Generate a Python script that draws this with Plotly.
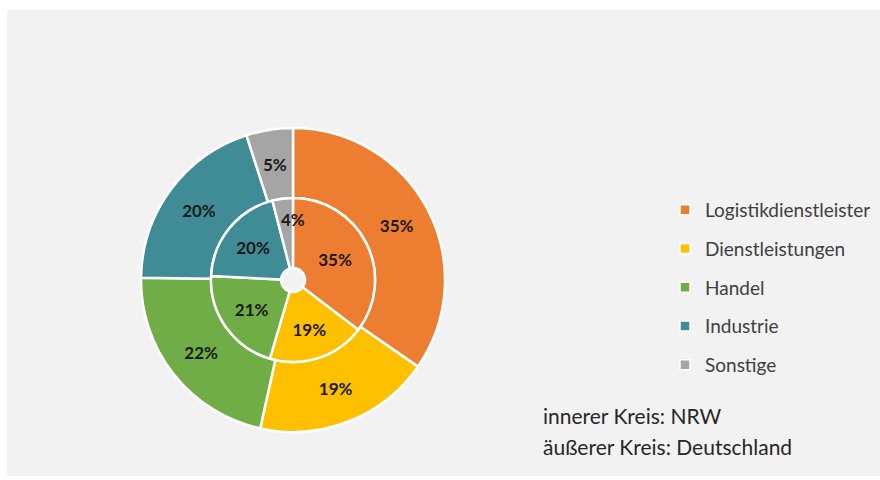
import math
import plotly.graph_objects as go

# categories and shares (%)
categories = ['Logistikdienstleister', 'Dienstleistungen', 'Handel', 'Industrie', 'Sonstige']
nrw = [35, 19, 21, 20, 4]            # inner ring
deutschland = [35, 19, 22, 20, 5]    # outer ring
colors = ['#ED7D31', '#FFC000', '#70AD47', '#3F8C96', '#A5A5A5']

W, H = 880, 480
cx, cy = 293, 280
r_out, r_in, r_hole = 152, 82, 12
SMALL = 10   # slices below this get their label as an annotation (plotly would shrink it)

label_font = dict(family='Lato', size=17, color='#1a1a1a')


def dom(r):
    return dict(x=[(cx - r) / W, (cx + r) / W],
                y=[(H - cy - r) / H, (H - cy + r) / H])


def add_ring(fig, values, r0, r1):
    fig.add_trace(go.Pie(
        labels=categories, values=values, domain=dom(r1),
        hole=r0 / r1, sort=False, direction='clockwise', rotation=0,
        marker=dict(colors=colors, line=dict(color='white', width=2.5)),
        texttemplate='<b>%{value}%</b>',
        textposition=['inside' if v >= SMALL else 'none' for v in values],
        insidetextorientation='horizontal', insidetextfont=label_font,
        showlegend=False, hoverinfo='label+value'
    ))


def add_small_labels(fig, values, r0, r1, dr=0, xshift=0):
    total = sum(values)
    start = 0
    for v in values:
        if v < SMALL:
            ang = (start + v / 2) / total * 2 * math.pi
            rm = (r0 + r1) / 2 + dr
            x = cx + rm * math.sin(ang)
            y = cy - rm * math.cos(ang)
            fig.add_annotation(x=x / W, y=(H - y) / H, xref='paper', yref='paper',
                               xanchor='center', yanchor='middle',
                               text=f'<b>{v}%</b>', showarrow=False,
                               font=label_font, xshift=xshift)
        start += v


fig = go.Figure()

add_ring(fig, deutschland, r_in, r_out)
add_ring(fig, nrw, r_hole, r_in)
add_small_labels(fig, deutschland, r_in, r_out)
add_small_labels(fig, nrw, r_hole, r_in, dr=14, xshift=8)

# legend entries (one group each so the spacing can be set)
for name, col in zip(categories, colors):
    fig.add_trace(go.Scatter(
        x=[None], y=[None], mode='markers', name=name, legendgroup=name,
        marker=dict(symbol='square', size=10, color=col, line=dict(color='white', width=1.5))
    ))

fig.add_shape(type='rect', xref='paper', yref='paper',
              x0=7 / W, x1=1, y0=(H - 476) / H, y1=(H - 10) / H,
              fillcolor='#F2F2F2', line=dict(width=0), layer='below')

note_font = dict(family='Lato', size=21, color='#262626')
fig.add_annotation(x=541 / W, y=(H - 415) / H, xref='paper', yref='paper',
                   text='innerer Kreis: NRW', showarrow=False,
                   xanchor='left', yanchor='middle', font=note_font)
fig.add_annotation(x=541 / W, y=(H - 446) / H, xref='paper', yref='paper',
                   text='äußerer Kreis: Deutschland', showarrow=False,
                   xanchor='left', yanchor='middle', font=note_font)

fig.update_layout(
    width=W, height=H,
    margin=dict(l=0, r=0, t=0, b=0),
    paper_bgcolor='white', plot_bgcolor='rgba(0,0,0,0)',
    xaxis=dict(visible=False), yaxis=dict(visible=False),
    legend=dict(x=665 / W, y=(H - 191) / H, xanchor='left', yanchor='top',
                bgcolor='rgba(0,0,0,0)', tracegroupgap=11,
                font=dict(family='Lato', size=19, color='#404040'),
                itemwidth=30),
)

fig.write_html("out.html", config={'displayModeBar': False},
               post_script="document.body.style.margin='0';")
